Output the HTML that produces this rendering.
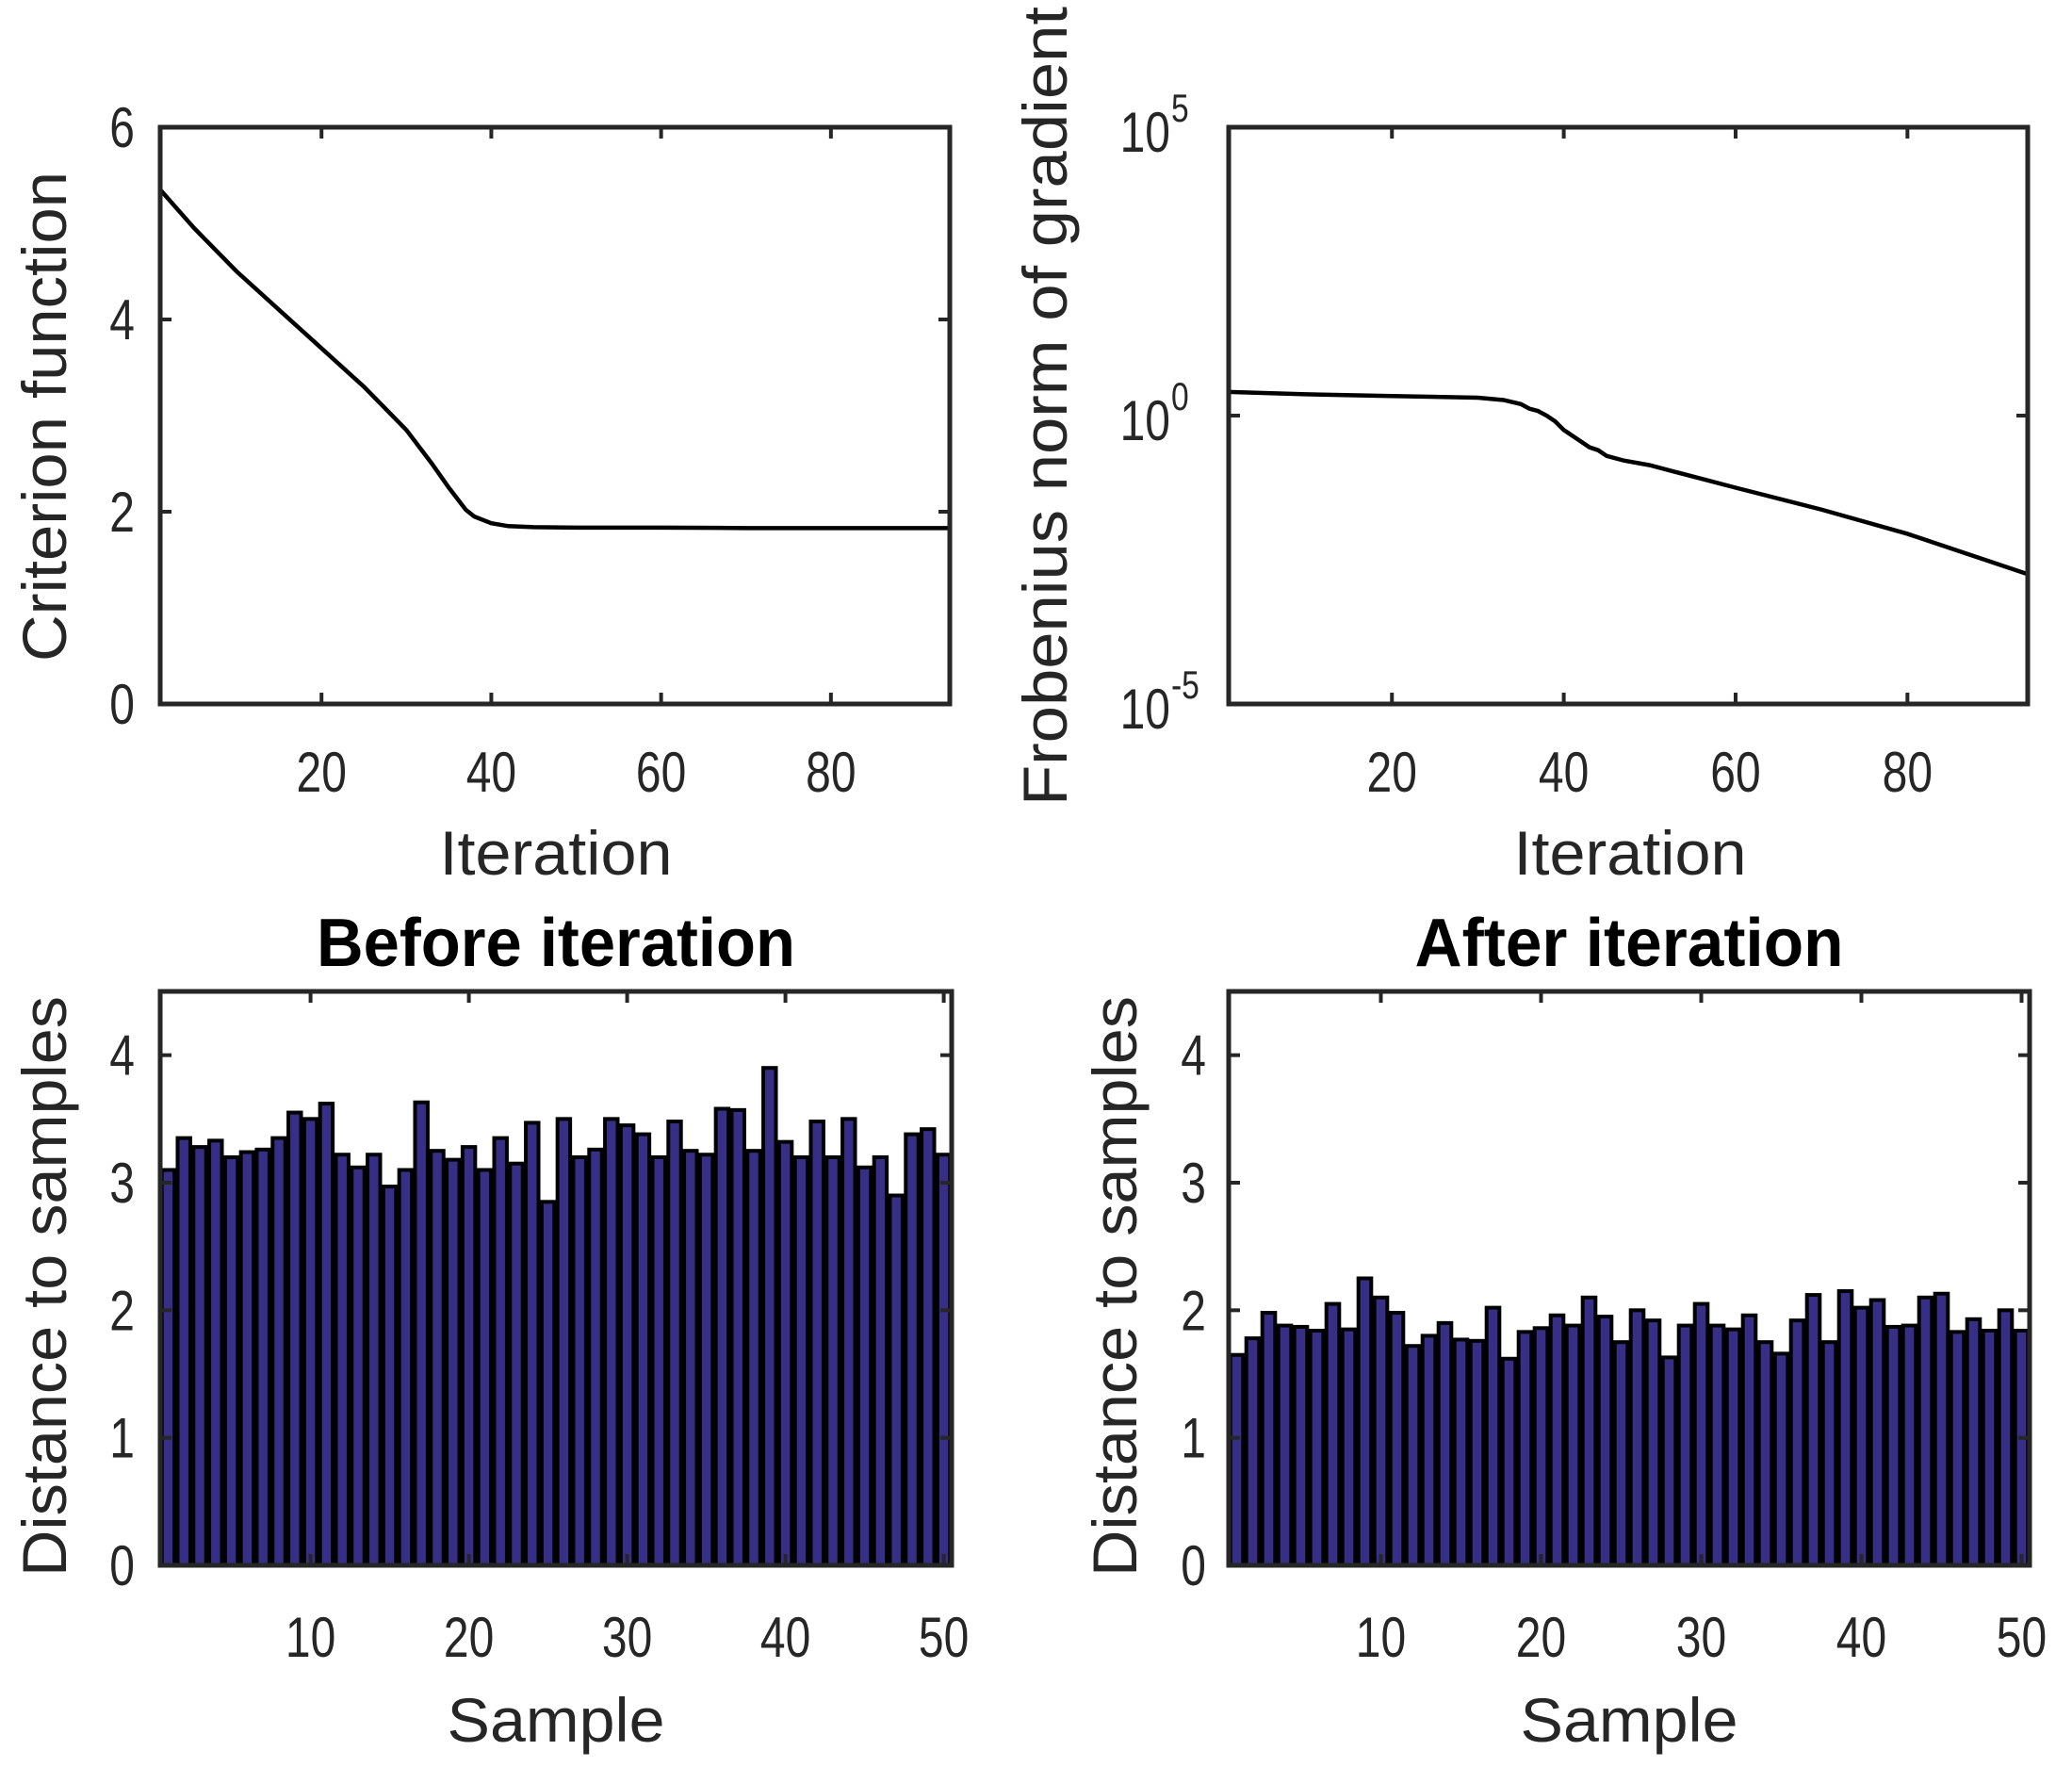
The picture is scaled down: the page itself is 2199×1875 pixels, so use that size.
<!DOCTYPE html>
<html><head><meta charset="utf-8"><style>
html,body{margin:0;padding:0;background:#fff}
svg{display:block}
text{font-family:"Liberation Sans",Arial,sans-serif;fill:#262626}
</style></head><body>
<svg id="fig" width="2199" height="1875" viewBox="0 0 2199 1875" xmlns="http://www.w3.org/2000/svg"></svg>
<script>
const iterX = [1,5,10,15,20,25,30,33,35,37,38,40,42,45,50,60,70,80,94];
const critY = [5.35,4.95,4.5,4.1,3.7,3.3,2.85,2.5,2.25,2.02,1.95,1.88,1.85,1.84,1.835,1.835,1.83,1.83,1.83];
const gradX = [1,10,20,30,33,35,36,37,38,39,40,41,42,43,44,45,47,50,60,70,80,94];
const gradLog = [0.41,0.37,0.34,0.31,0.27,0.2,0.12,0.08,0.0,-0.1,-0.25,-0.35,-0.45,-0.55,-0.6,-0.7,-0.78,-0.86,-1.25,-1.63,-2.05,-2.75];
const samples = Array.from({length:50},(_,i)=>i+1);
const before = [3.1,3.35,3.28,3.33,3.2,3.24,3.26,3.35,3.55,3.5,3.62,3.22,3.12,3.22,2.97,3.1,3.63,3.25,3.18,3.28,3.1,3.35,3.15,3.47,2.85,3.5,3.2,3.26,3.5,3.45,3.38,3.2,3.48,3.25,3.22,3.58,3.57,3.25,3.9,3.32,3.2,3.48,3.2,3.5,3.12,3.2,2.9,3.38,3.42,3.22];
const after = [1.65,1.78,1.98,1.88,1.87,1.84,2.05,1.85,2.25,2.1,1.98,1.72,1.8,1.9,1.77,1.76,2.02,1.62,1.83,1.86,1.96,1.88,2.1,1.95,1.75,2.0,1.92,1.63,1.88,2.05,1.88,1.85,1.96,1.75,1.66,1.92,2.12,1.75,2.15,2.02,2.08,1.87,1.88,2.1,2.13,1.83,1.93,1.84,2.0,1.84];
const iterTicks = [20,40,60,80];
const critTicks = [0,2,4,6];
const sampleTicks = [10,20,30,40,50];
const distTicks = [0,1,2,3,4];

const NS="http://www.w3.org/2000/svg";
const svg=document.getElementById('fig');
function el(tag,attrs,parent){const e=document.createElementNS(NS,tag);for(const k in attrs)e.setAttribute(k,attrs[k]);(parent||svg).appendChild(e);return e;}
function lin(d0,d1,r0,r1){return v=>r0+(v-d0)*(r1-r0)/(d1-d0);}
const TFS=60;

function axesBox(g,L,R,T,B,name){
  const r=el('rect',{x:L,y:T,width:R-L,height:B-T,fill:'none',stroke:'#262626','stroke-width':5},g);
  
  
}
function xTicks(g,xs,ticks,T,B,ly){
  ticks.forEach(t=>{
    const x=xs(t);
    el('line',{x1:x,x2:x,y1:B,y2:B-12,stroke:'#262626','stroke-width':4},g);
    el('line',{x1:x,x2:x,y1:T,y2:T+12,stroke:'#262626','stroke-width':4},g);
    const tx=el('text',{x:x,y:ly,'text-anchor':'middle','font-size':TFS,transform:`translate(${x},0) scale(0.8,1) translate(${-x},0)`},g);
    tx.textContent=t;
    
    
  });
}
function yTicks(g,ys,ticks,L,R,lx){
  ticks.forEach(t=>{
    const y=ys(t);
    el('line',{x1:L,x2:L+12,y1:y,y2:y,stroke:'#262626','stroke-width':4},g);
    el('line',{x1:R,x2:R-12,y1:y,y2:y,stroke:'#262626','stroke-width':4},g);
    const tx=el('text',{x:lx,y:y+21,'text-anchor':'end','font-size':TFS,transform:`translate(${lx},0) scale(0.8,1) translate(${-lx},0)`},g);
    tx.textContent=t;
    
    
  });
}
function label(g,txt,x,y,len,rot,name,bold){
  const a={x:x,y:y,'text-anchor':'middle','font-size':bold?72:66,textLength:len,lengthAdjust:'spacingAndGlyphs'};
  if(bold)a['font-weight']='bold';
  if(rot)a.transform=`rotate(-90 ${x} ${y})`;
  const t=el('text',a,g);t.textContent=txt;
  
  
  if(bold)t.style.fill='#000';
}

// Panel 1
{
  const g=el('g',{});
  const L=170,R=1008,T=135,B=747;
  const xs=lin(1,94,L,R), ys=lin(0,6,B,T);
  const p=el('polyline',{points:iterX.map((x,i)=>xs(x)+','+ys(critY[i])).join(' '),fill:'none',stroke:'#000','stroke-width':4.5},g);
  
  axesBox(g,L,R,T,B,'criterion-axes');
  xTicks(g,xs,iterTicks,T,B,840);
  yTicks(g,ys,critTicks,L,R,143);
  label(g,'Iteration',590,928,247,false,'x-axis-title');
  label(g,'Criterion function',70,442,520,true,'y-axis-title');
}
// Panel 2
{
  const g=el('g',{});
  const L=1304,R=2152,T=135,B=747;
  const xs=lin(1,94,L,R), ys=lin(-5,5,B,T);
  const p=el('polyline',{points:gradX.map((x,i)=>xs(x)+','+ys(gradLog[i])).join(' '),fill:'none',stroke:'#000','stroke-width':4.5},g);
  
  axesBox(g,L,R,T,B,'gradient-axes');
  xTicks(g,xs,iterTicks,T,B,840);
  [-5,0,5].forEach(e=>{
    const y=ys(e);
    el('line',{x1:L,x2:L+12,y1:y,y2:y,stroke:'#262626','stroke-width':4},g);
    el('line',{x1:R,x2:R-12,y1:y,y2:y,stroke:'#262626','stroke-width':4},g);
    const t=el('text',{x:1242,y:y+26,'text-anchor':'end','font-size':TFS,transform:`translate(1242,0) scale(0.8,1) translate(-1242,0)`},g);
    t.textContent='10';
    
    
    const s=el('text',{x:1243,y:y-6,'text-anchor':'start','font-size':42,transform:`translate(1243,0) scale(0.8,1) translate(-1243,0)`},g);
    s.textContent=String(e);
    
    
  });
  label(g,'Iteration',1730,928,247,false,'x-axis-title');
  label(g,'Frobenius norm of gradient',1132,431,848,true,'y-axis-title');
}
// Bar panels
function barPanel(L,R,vals,title,ylx,tickX,name,tlen){
  const g=el('g',{});
  const T=1052,B=1661;
  const xs=lin(0.5,50.5,L,R), ys=lin(0,4.5,B,T);
  const w=(xs(1)-xs(0))*0.8;
  samples.forEach((s,i)=>{
    const r=el('rect',{x:xs(s)-w/2,y:ys(vals[i]),width:w,height:B-ys(vals[i]),fill:'#372f86',stroke:'#000','stroke-width':4},g);
    
    
  });
  axesBox(g,L,R,T,B,'bar-axes');
  xTicks(g,xs,sampleTicks,T,B,1758);
  yTicks(g,ys,distTicks,L,R,tickX);
  const cx=(L+R)/2;
  label(g,'Sample',cx,1848,231,false,'x-axis-title');
  label(g,'Distance to samples',ylx,1365,616,true,'y-axis-title');
  label(g,title,cx,1025,tlen,false,'chart-title',true);
}
barPanel(170,1010,before,'Before iteration',70,143,'before-panel',508);
barPanel(1304,2154,after,'After iteration',1206,1280,'after-panel',455);
</script>
</body></html>
